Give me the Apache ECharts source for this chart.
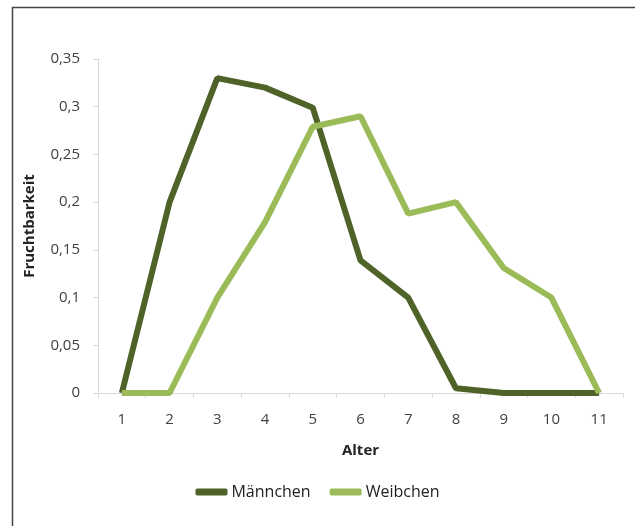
<!DOCTYPE html>
<html lang="de">
<head>
    <meta charset="UTF-8">
    <title>Fruchtbarkeit nach Alter</title>
    <script src="https://cdn.jsdelivr.net/npm/echarts@6/dist/echarts.min.js"></script>
    <style>
        html, body {
            margin: 0;
            padding: 0;
            background: #fff;
        }
    </style>
</head>
<body>
<div id="main" style="width:635px;height:526px;"></div>
<script>
    var alter = ['1', '2', '3', '4', '5', '6', '7', '8', '9', '10', '11'];
    var maennchen = [0, 0.2, 0.33, 0.32, 0.299, 0.139, 0.1, 0.005, 0, 0, 0];
    var weibchen = [0, 0, 0.1, 0.179, 0.279, 0.29, 0.188, 0.2, 0.131, 0.1, 0];

    var fontName = 'Open Sans';
    var myChart = echarts.init(document.getElementById('main'));
    var option = {
        animation: false,
        textStyle: {fontFamily: fontName},
        graphic: [
            {   // Rahmen links und oben
                type: 'polyline',
                shape: {points: [[12.5, 526], [12.5, 7.5], [635, 7.5]]},
                style: {stroke: '#444', lineWidth: 1.5, fill: null},
                silent: true
            }
        ],
        grid: {left: 98, right: 12, top: 59, bottom: 133},
        legend: {
            bottom: 21,
            left: 'center',
            itemWidth: 32,
            itemHeight: 7,
            itemGap: 19,
            icon: 'roundRect',
            textStyle: {fontSize: 16, color: '#222', fontFamily: fontName, padding: [0, 0, 0, -1]},
            data: ['Männchen', 'Weibchen']
        },
        xAxis: {
            type: 'category',
            data: alter,
            boundaryGap: true,
            name: 'Alter',
            nameLocation: 'middle',
            nameGap: 50,
            nameTextStyle: {fontWeight: 'bold', fontSize: 15, color: '#222'},
            axisLine: {lineStyle: {color: '#d9d9d9', width: 1}},
            axisTick: {show: true, length: 5, lineStyle: {color: '#d9d9d9'}},
            axisLabel: {fontSize: 15, color: '#404040', margin: 19}
        },
        yAxis: {
            type: 'value',
            min: 0,
            max: 0.35,
            interval: 0.05,
            name: 'Fruchtbarkeit',
            nameLocation: 'middle',
            nameGap: 61,
            nameTextStyle: {fontWeight: 'bold', fontSize: 15, color: '#222'},
            axisLine: {show: true, lineStyle: {color: '#d9d9d9', width: 1}},
            axisTick: {show: true, length: 5, lineStyle: {color: '#d9d9d9'}},
            splitLine: {show: false},
            axisLabel: {
                fontSize: 15,
                color: '#404040',
                margin: 18,
                formatter: function (v) {
                    return String(parseFloat(v.toFixed(2))).replace('.', ',');
                }
            }
        },
        series: [
            {
                name: 'Männchen',
                type: 'line',
                data: maennchen,
                showSymbol: false,
                symbol: 'none',
                color: '#4F6228',
                lineStyle: {width: 6, color: '#4F6228'}
            },
            {
                name: 'Weibchen',
                type: 'line',
                data: weibchen,
                showSymbol: false,
                symbol: 'none',
                color: '#9BBB59',
                lineStyle: {width: 6, color: '#9BBB59'}
            }
        ]
    };
    myChart.setOption(option);
</script>
</body>
</html>
